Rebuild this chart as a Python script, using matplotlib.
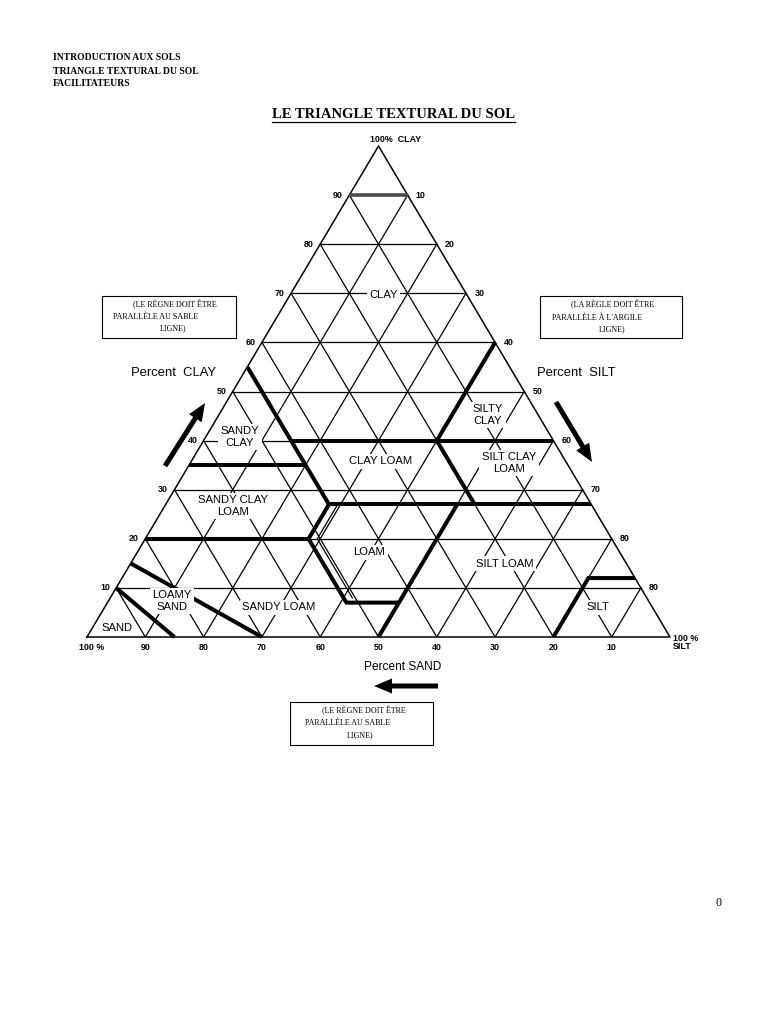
import matplotlib
matplotlib.use("Agg")
import matplotlib.pyplot as plt
from matplotlib.patches import Rectangle, FancyArrow

# ---------------- data ----------------
header_lines = ["INTRODUCTION AUX SOLS", "TRIANGLE TEXTURAL DU SOL", "FACILITATEURS"]
title = "LE TRIANGLE TEXTURAL DU SOL"
grid_levels = [10, 20, 30, 40, 50, 60, 70, 80, 90]
clay_tick_labels = ["10", "20", "30", "40", "50", "60", "70", "80", "90"]
silt_tick_labels = ["80", "80", "70", "60", "50", "40", "30", "20", "10"]   # as printed (clay 10 -> 90 levels)
sand_tick_labels = ["90", "80", "70", "60", "50", "40", "30", "20", "10"]
sand_tick_values = [90, 80, 70, 60, 50, 40, 30, 20, 10]

# texture-class boundaries as (clay %, silt %) vertices
boundaries = {
    "sand": [(10, 0), (0, 15)],
    "loamy_sand": [(15, 0), (0, 30)],
    "sandy_clay_top": [(35, 0), (35, 20)],
    "clay_sand45": [(55, 0), (27, 28)],
    "sandy_clay_loam_bottom": [(20, 0), (20, 28)],
    "loam_left": [(27, 28), (20, 28), (7, 41), (7, 50)],
    "silt_loam_left": [(0, 50), (27, 50)],
    "clay_40": [(40, 15), (40, 60)],
    "silty_clay_left": [(40, 40), (60, 40)],
    "sand20": [(40, 40), (27, 53)],
    "clay_27": [(27, 28), (27, 73)],
    "silt": [(0, 80), (12, 80), (12, 88)],
}
double_line = [(27, 29.5), (20, 29.5), (8, 41.5)]
top_gray = [(90, 0), (90, 10)]

class_names = ["CLAY", "SANDY\nCLAY", "CLAY LOAM", "SILTY\nCLAY", "SILT CLAY\nLOAM",
               "SANDY CLAY\nLOAM", "LOAM", "SILT LOAM", "LOAMY\nSAND", "SAND",
               "SANDY LOAM", "SILT"]

def xy(clay, silt):
    return silt + clay / 2.0, clay

# ---------------- figure ----------------
W, H = 768, 1024
fig = plt.figure(figsize=(W / 100, H / 100), dpi=100)
fig.patch.set_facecolor("white")

page = fig.add_axes([0, 0, 1, 1])
page.set_xlim(0, W)
page.set_ylim(H, 0)
page.axis("off")

L, R, B, T = 87, 670, 637, 146
tri = fig.add_axes([L / W, (H - B) / H, (R - L) / W, (B - T) / H])
tri.set_xlim(0, 100)
tri.set_ylim(0, 100)
tri.axis("off")

sans = "Liberation Sans"
serif = "Liberation Serif"

ox, oy = zip(*[xy(0, 0), xy(100, 0), xy(0, 100), xy(0, 0)])
tri.plot(ox, oy, color="black", lw=1.1, clip_on=False, zorder=2)

for v in grid_levels:
    a, b = xy(v, 0), xy(v, 100 - v)
    tri.plot([a[0], b[0]], [a[1], b[1]], color="black", lw=0.9, zorder=1)
    a, b = xy(0, v), xy(100 - v, v)
    tri.plot([a[0], b[0]], [a[1], b[1]], color="black", lw=0.9, zorder=1)
    a, b = xy(0, 100 - v), xy(100 - v, 0)
    tri.plot([a[0], b[0]], [a[1], b[1]], color="black", lw=0.9, zorder=1)

gx, gy = zip(*[xy(c, s) for c, s in top_gray])
tri.plot(gx, gy, color="#4a4a4a", lw=2.6, solid_capstyle="butt", zorder=3)

for name, pts in boundaries.items():
    bx, by = zip(*[xy(c, s) for c, s in pts])
    tri.plot(bx, by, color="black", lw=2.9, solid_joinstyle="miter",
             solid_capstyle="butt", zorder=3, clip_on=False)
dx_, dy_ = zip(*[xy(c, s) for c, s in double_line])
tri.plot(dx_, dy_, color="black", lw=0.9, zorder=3)

label_pos = [(50.9, 69.7), (26.2, 40.7), (50.4, 35.8), (68.8, 45.2), (72.4, 35.4),
             (25.0, 26.7), (48.4, 17.3), (71.7, 14.9), (14.6, 7.3), (5.1, 1.8),
             (32.9, 6.1), (87.6, 6.1)]
for name, (px, py) in zip(class_names, label_pos):
    tri.text(px, py, name, ha="center", va="center", fontsize=8.1, family=sans,
             linespacing=1.2, zorder=5,
             bbox=dict(boxstyle="square,pad=0.22", fc="white", ec="none"))

tick_kw = dict(fontsize=6.4, fontweight="bold", family=sans, annotation_clip=False)
for v, lab in zip(grid_levels, clay_tick_labels):
    tri.annotate(lab, xy(v, 0), xytext=(-4.5, 0), textcoords="offset points",
                 ha="right", va="center", **tick_kw)
for v, lab in zip(grid_levels, silt_tick_labels):
    tri.annotate(lab, xy(v, 100 - v), xytext=(6, 0), textcoords="offset points",
                 ha="left", va="center", **tick_kw)
for v, lab in zip(sand_tick_values, sand_tick_labels):
    tri.annotate(lab, xy(0, 100 - v), xytext=(0, -7.5), textcoords="offset points",
                 ha="center", va="center", **tick_kw)
tri.annotate("100 %", xy(0, 0), xytext=(3, -7.5), textcoords="offset points",
             ha="center", va="center", **tick_kw)
tri.annotate("100 %\nSILT", xy(0, 100), xytext=(2, -4), textcoords="offset points",
             ha="left", va="center", linespacing=0.85, **tick_kw)
tri.annotate("100%  CLAY", xy(100, 0), xytext=(12, 4.5), textcoords="offset points",
             ha="center", va="center", **tick_kw)

# ---------------- page elements ----------------
for i, line in enumerate(header_lines):
    page.text(53, 58 + 13 * i, line, ha="left", va="center", fontsize=6.9,
              fontweight="bold", family=serif)

t = page.text(393, 115, title, ha="center", va="center", fontsize=10.5,
              fontweight="bold", family=serif)
fig.canvas.draw()
bb = t.get_window_extent(renderer=fig.canvas.get_renderer())
page.plot([bb.x0, bb.x1], [122, 122], color="black", lw=0.9)

page.text(174, 373, "Percent  CLAY", ha="center", va="center", fontsize=9.4, family=sans)
page.text(576, 373, "Percent  SILT", ha="center", va="center", fontsize=9.4, family=sans)
page.text(403, 667, "Percent SAND", ha="center", va="center", fontsize=8.6, family=sans)

arrows = [((165, 466), (205, 403)), ((556, 402), (592, 462)), ((438, 686), (374, 686))]
for (x0, y0), (x1, y1) in arrows:
    page.add_patch(FancyArrow(x0, y0, x1 - x0, y1 - y0, width=5, head_width=15,
                              head_length=18, length_includes_head=True,
                              color="black", lw=0))

boxes = [
    ((102, 296, 134, 42), [("(LE RÈGNE DOIT ÊTRE", 133, 305), ("PARALLÈLE AU SABLE", 113, 317),
                           ("LIGNE)", 160, 328)]),
    ((540, 296, 142, 42), [("(LA RÈGLE DOIT ÊTRE", 571, 305), ("PARALLÈLE À L'ARGILE", 552, 318),
                           ("LIGNE)", 599, 329)]),
    ((290, 702, 143, 43), [("(LE RÈGNE DOIT ÊTRE", 322, 711), ("PARALLÈLE AU SABLE", 305, 723),
                           ("LIGNE)", 347, 735)]),
]
for (bx, by, bw, bh), lines in boxes:
    page.add_patch(Rectangle((bx, by), bw, bh, fill=False, ec="black", lw=0.8))
    for txt, tx, ty in lines:
        page.text(tx, ty, txt, ha="left", va="center", fontsize=5.8, family=serif)

page.text(718, 903, "0", ha="center", va="center", fontsize=8.5, family=serif)

fig.savefig("out.png", dpi=100, facecolor="white")
